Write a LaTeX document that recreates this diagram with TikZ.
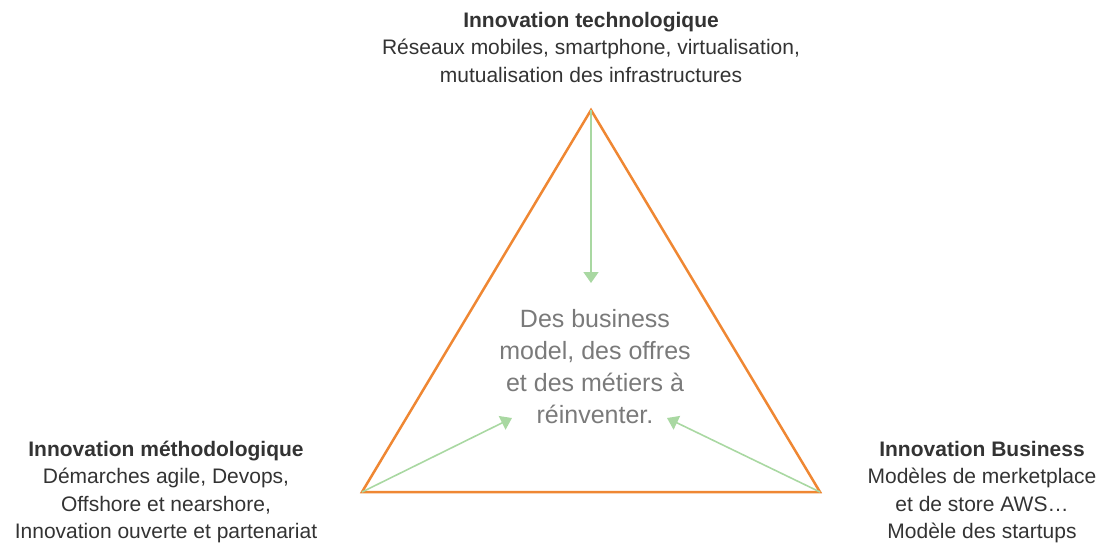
\documentclass[tikz,border=0pt]{standalone}
\usepackage{fontspec}
\setmainfont{Liberation Sans}
\usepackage{tikz}
\usetikzlibrary{arrows.meta}

\definecolor{triorange}{HTML}{EF8733}
\definecolor{arrgreen}{HTML}{A9D8A2}
\definecolor{txtdark}{HTML}{333333}
\definecolor{txtgray}{HTML}{7A7A7A}

\tikzset{
    pole/.style={align=center, text=txtdark, font=\fontsize{21}{27.5}\selectfont, inner sep=0pt},
    push/.style={draw=arrgreen, line width=1.6pt, -{Triangle[length=11pt,width=15pt]}},
}

\begin{document}
\begin{tikzpicture}[x=1pt,y=-1pt]
        \useasboundingbox (0,0) rectangle (1101,547);
        % triangle corners
        \coordinate (top) at (591,110);
        \coordinate (left) at (362,492);
        \coordinate (right) at (820,492);
        \draw[triorange, line width=2.5pt, line join=miter] (top) -- (right) -- (left) -- cycle;
        % centre
        \node[align=center, text=txtgray, font=\fontsize{25}{32}\selectfont, inner sep=0pt] (centre) at (595,367)
            {Des business\\model, des offres\\et des métiers à\\réinventer.};
        \coordinate (intop) at (591,283);
        \coordinate (inleft) at (512,418);
        \coordinate (inright) at (667,418);
        \draw[push] (top) -- (intop);
        \draw[push] (left) -- (inleft);
        \draw[push] (right) -- (inright);
        % the three sources
        \node[pole] (techno) at (591,47)
            {\textbf{Innovation technologique}\\Réseaux mobiles, smartphone, virtualisation,\\mutualisation des infrastructures};
        \node[pole] (metho) at (166,492)
            {\textbf{Innovation méthodologique}\\Démarches agile, Devops,\\Offshore et nearshore,\\Innovation ouverte et partenariat};
        \node[pole] (business) at (982,492)
            {\textbf{Innovation Business}\\Modèles de merketplace\\et de store AWS…\\Modèle des startups};
    \end{tikzpicture}
\end{document}
